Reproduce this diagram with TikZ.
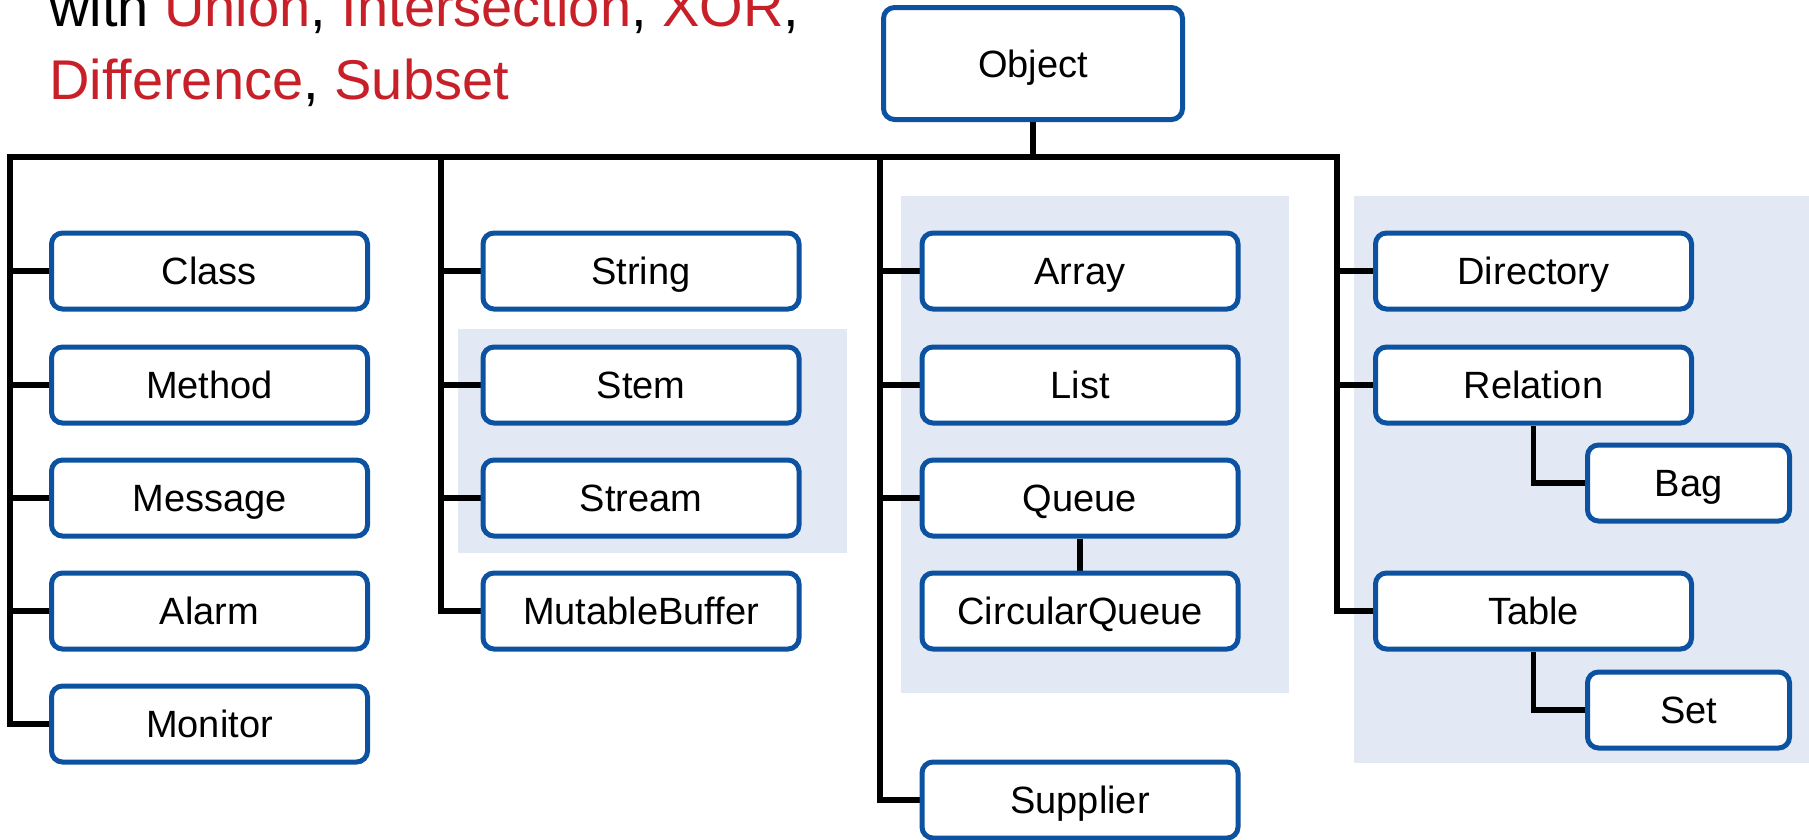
\documentclass[tikz,border=0pt]{standalone}
\usepackage{fontspec}
\setmainfont{Liberation Sans}
\usetikzlibrary{positioning}
\definecolor{boxblue}{RGB}{12,82,160}
\definecolor{groupbg}{RGB}{226,233,244}
\definecolor{hl}{RGB}{200,32,40}
\pgfdeclarelayer{bg}
\pgfdeclarelayer{lines}
\pgfsetlayers{bg,lines,main}
\begin{document}
\begin{tikzpicture}[x=1pt,y=-1pt,
  cls/.style={draw=boxblue,line width=5pt,fill=white,rounded corners=11pt,
    minimum width=316pt,minimum height=76pt,inner sep=0pt,
    text height=27pt,text depth=0pt,
    font=\fontsize{38}{40}\selectfont},
  small/.style={cls,minimum width=202pt},
  conn/.style={draw=black,line width=5.5pt},
  grp/.style={fill=groupbg,draw=none}]
\useasboundingbox (0,0) rectangle (1809,839);
% title
\node[anchor=base west,inner sep=0pt,font=\fontsize{56}{60}\selectfont] (t1) at (49,26)
  {with \textcolor{hl}{Union}, \textcolor{hl}{Intersection}, \textcolor{hl}{XOR},};
\node[anchor=base west,inner sep=0pt,font=\fontsize{56}{60}\selectfont] (t2) at (49,99)
  {\textcolor{hl}{Difference}, \textcolor{hl}{Subset}};
% nodes
\node[cls,minimum width=299pt,minimum height=112pt] (obj) at (1033,63.5) {Object};
\node[cls] (class) at (209.5,271) {Class};
\node[cls] (method) at (209.5,385) {Method};
\node[cls] (message) at (209.5,498) {Message};
\node[cls] (alarm) at (209.5,611) {Alarm};
\node[cls] (monitor) at (209.5,724) {Monitor};
\node[cls] (string) at (641,271) {String};
\node[cls] (stem) at (641,385) {Stem};
\node[cls] (stream) at (641,498) {Stream};
\node[cls] (mbuf) at (641,611) {MutableBuffer};
\node[cls] (array) at (1080,271) {Array};
\node[cls] (list) at (1080,385) {List};
\node[cls] (queue) at (1080,498) {Queue};
\node[cls] (cqueue) at (1080,611) {CircularQueue};
\node[cls] (supplier) at (1080,800) {Supplier};
\node[cls] (dir) at (1533.5,271) {Directory};
\node[cls] (rel) at (1533.5,385) {Relation};
\node[small] (bag) at (1688.5,483) {Bag};
\node[cls] (table) at (1533.5,611) {Table};
\node[small] (set) at (1688.5,710) {Set};
% shaded groups
\begin{pgfonlayer}{bg}
\path[grp] (458,329) rectangle (847,553);
\path[grp] (901,196) rectangle (1289,693);
\path[grp] (1354,196) rectangle (1809,763);
\end{pgfonlayer}
% connectors
\coordinate (b1) at (10,157);
\coordinate (b2) at (441,157);
\coordinate (b3) at (880,157);
\coordinate (b4) at (1337,157);
\begin{pgfonlayer}{lines}
\draw[conn] (obj.south) |- (b1) |- (monitor.west);
\draw[conn] (obj.south) |- (b4) |- (table.west);
\draw[conn] (b2) |- (mbuf.west);
\draw[conn] (b3) |- (supplier.west);
\foreach \n in {class,method,message,alarm}{\draw[conn] (b1 |- \n.west) -- (\n.west);}
\foreach \n in {string,stem,stream}{\draw[conn] (b2 |- \n.west) -- (\n.west);}
\foreach \n in {array,list,queue}{\draw[conn] (b3 |- \n.west) -- (\n.west);}
\foreach \n in {dir,rel}{\draw[conn] (b4 |- \n.west) -- (\n.west);}
\draw[conn] (queue.south) -- (cqueue.north);
\draw[conn] (rel.south) |- (bag.west);
\draw[conn] (table.south) |- (set.west);
\end{pgfonlayer}
\end{tikzpicture}
\end{document}
